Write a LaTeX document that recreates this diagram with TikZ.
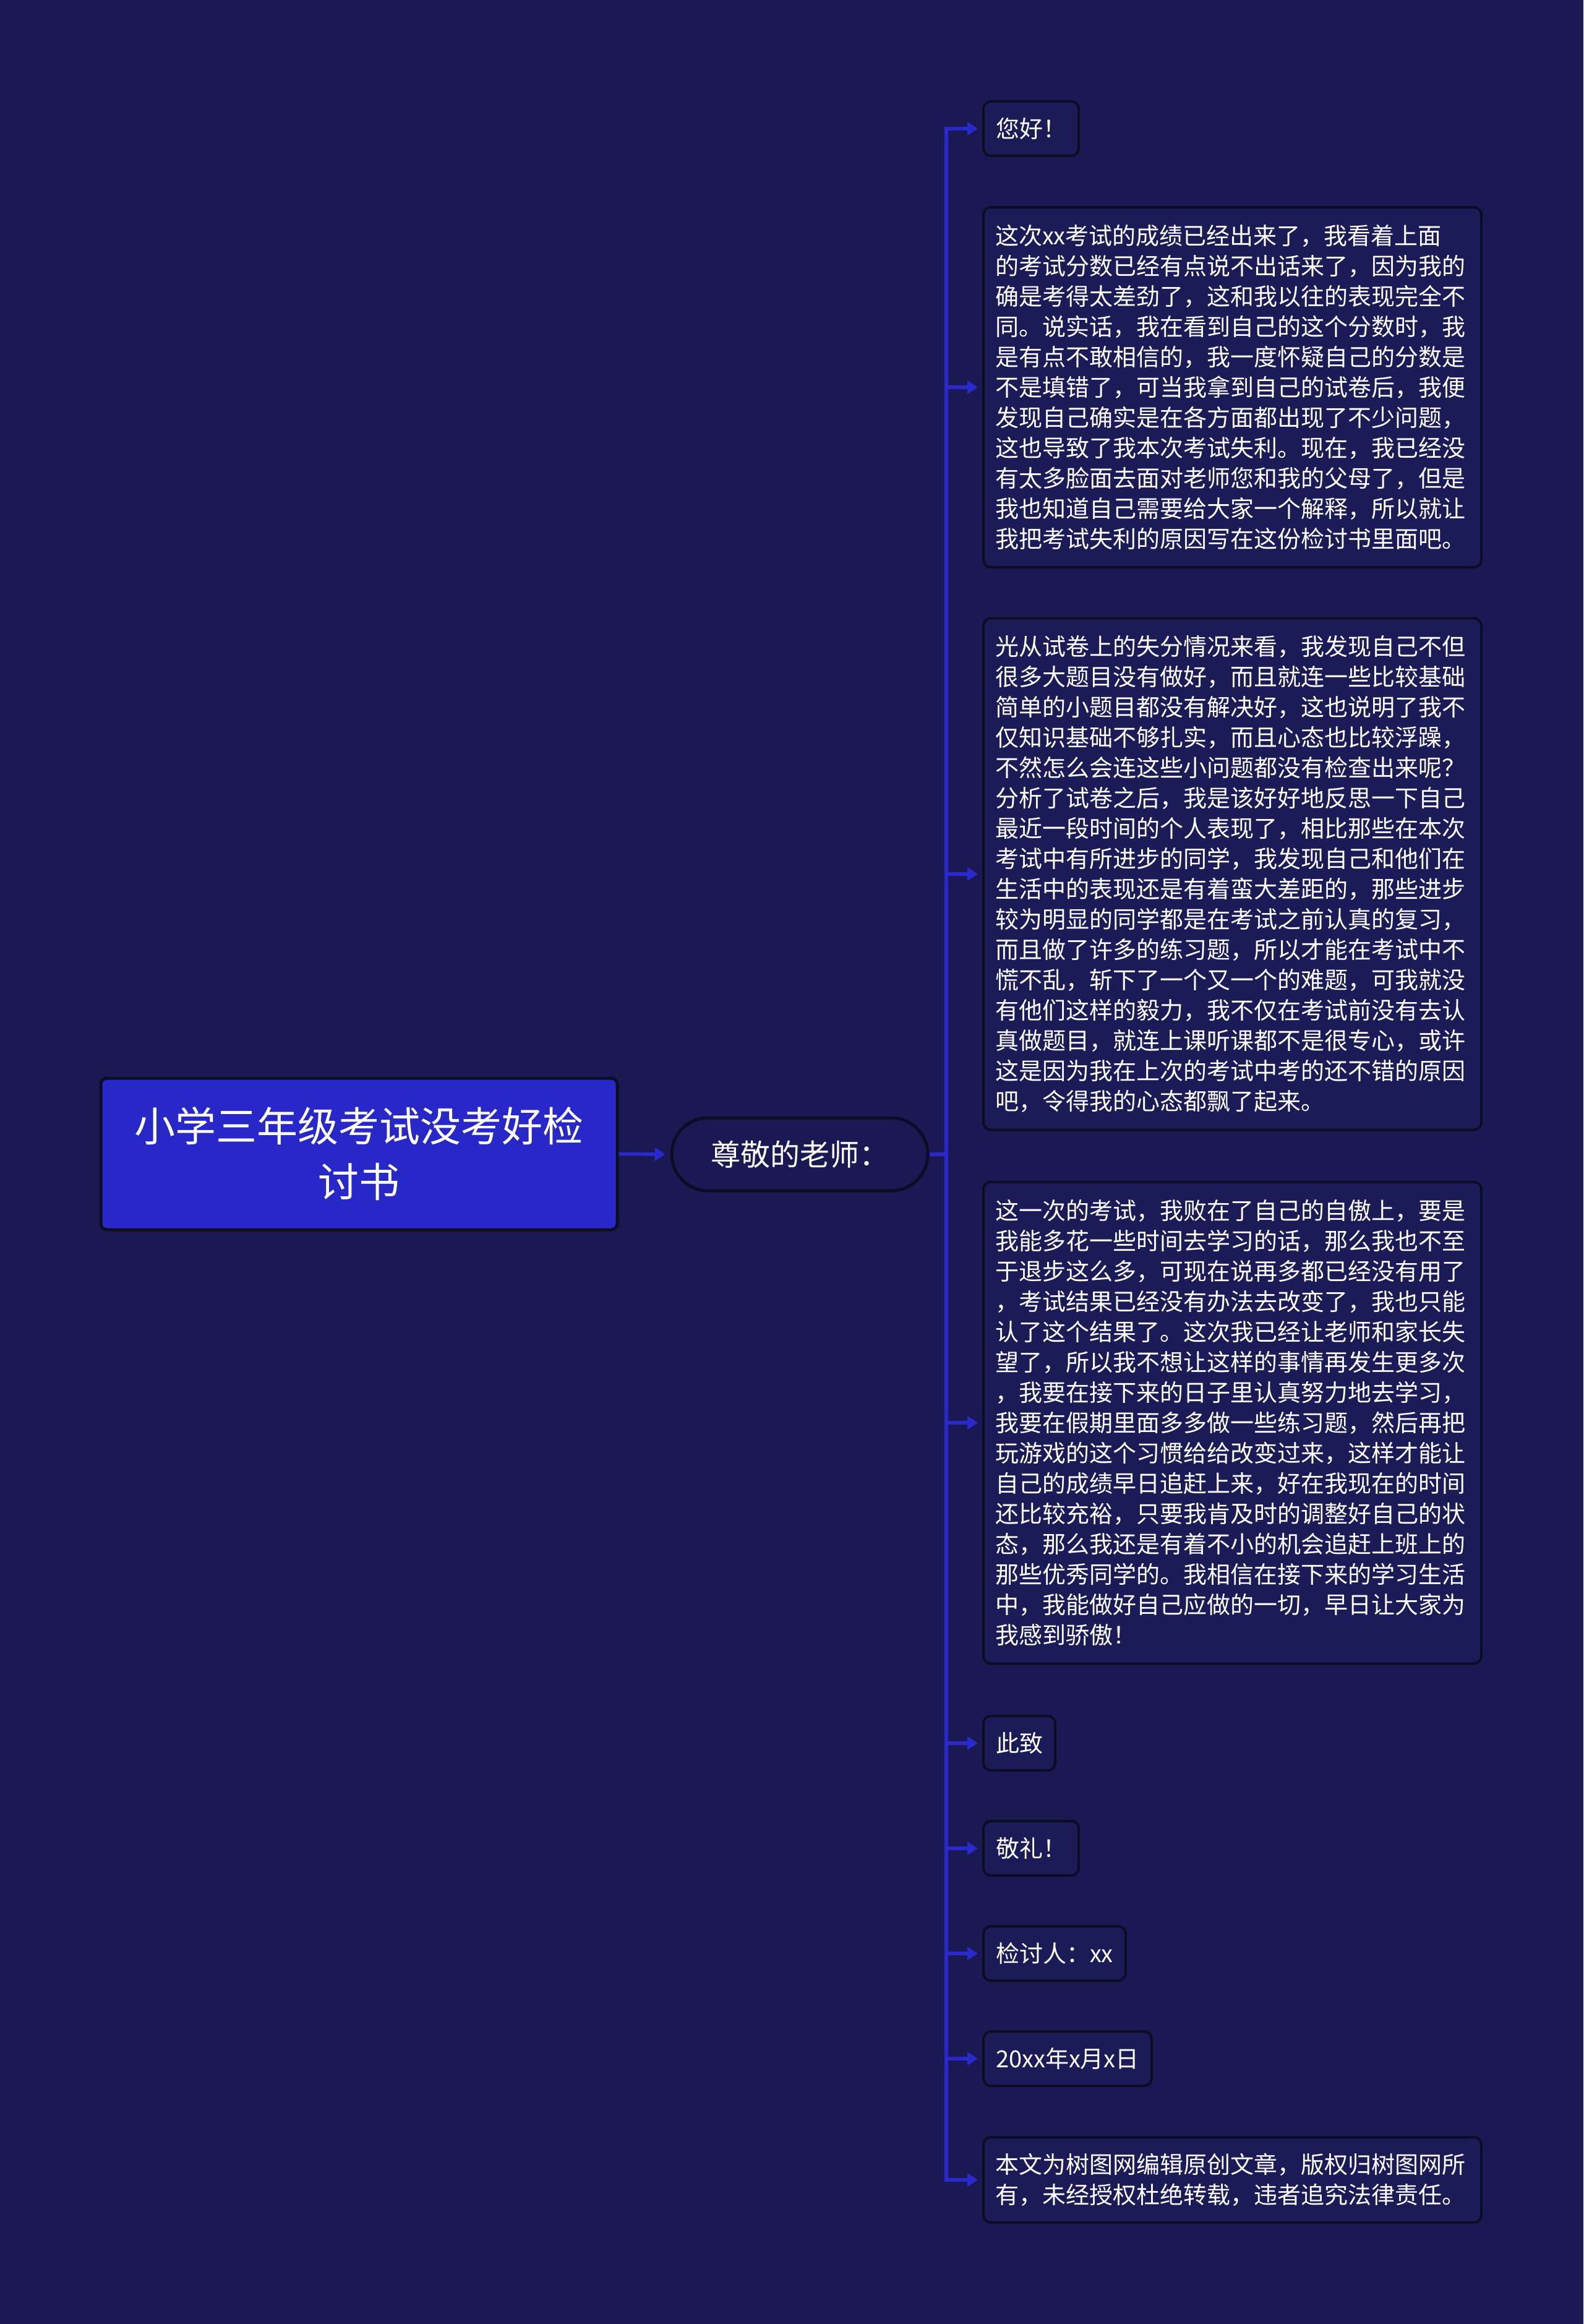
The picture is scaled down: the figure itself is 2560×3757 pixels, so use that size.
\documentclass[tikz,border=0pt]{standalone}
\usepackage{fontspec}
\setmainfont{Noto Sans CJK SC}
\usetikzlibrary{arrows.meta}
\definecolor{bg}{HTML}{1A1953}
\definecolor{rootfill}{HTML}{2828C8}
\definecolor{linec}{HTML}{2A2ACC}
\definecolor{edgec}{HTML}{0C0C24}
\definecolor{leaffill}{HTML}{1B1B58}
\begin{document}
\begin{tikzpicture}[x=1pt,y=-1pt,
  rootbox/.style={draw=edgec, line width=5pt, fill=rootfill, rounded corners=10pt, text=white, align=center,
    font=\fontsize{66}{90}\selectfont, minimum width=835pt, minimum height=245pt, text width=790pt, inner sep=0pt},
  midbox/.style={draw=edgec, line width=5pt, fill=bg, rounded corners=59pt, text=white,
    font=\fontsize{48}{58}\selectfont, minimum width=414pt, minimum height=118pt, inner sep=0pt},
  leafbox/.style={draw=edgec, line width=4pt, fill=leaffill, rounded corners=12pt, text=white, anchor=west,
    font=\fontsize{38}{49}\selectfont, inner xsep=20pt, inner ysep=0pt, minimum height=88pt},
  longleaf/.style={leafbox, align=left, text width=767pt, inner xsep=19pt},
  conn/.style={draw=linec, line width=5.5pt},
  arr/.style={conn, -{Triangle[length=17pt,width=21pt]}, shorten >=7pt}
]
\useasboundingbox (0,0) rectangle (2560,3757);
\fill[bg] (0,0) rectangle (2560,3757);

\node[rootbox] (root) at (580.5,1865.5) {小学三年级考试没考好检\\讨书};
\node[midbox] (mid) at (1293,1866) {尊敬的老师：};

\node[leafbox] (l1) at (1588,208) {您好！};
\node[longleaf, minimum height=582pt] (l2) at (1588,626) {这次xx考试的成绩已经出来了，我看着上面\\
的考试分数已经有点说不出话来了，因为我的\\
确是考得太差劲了，这和我以往的表现完全不\\
同。说实话，我在看到自己的这个分数时，我\\
是有点不敢相信的，我一度怀疑自己的分数是\\
不是填错了，可当我拿到自己的试卷后，我便\\
发现自己确实是在各方面都出现了不少问题，\\
这也导致了我本次考试失利。现在，我已经没\\
有太多脸面去面对老师您和我的父母了，但是\\
我也知道自己需要给大家一个解释，所以就让\\
我把考试失利的原因写在这份检讨书里面吧。};
\node[longleaf, minimum height=827pt] (l3) at (1588,1413) {光从试卷上的失分情况来看，我发现自己不但\\
很多大题目没有做好，而且就连一些比较基础\\
简单的小题目都没有解决好，这也说明了我不\\
仅知识基础不够扎实，而且心态也比较浮躁，\\
不然怎么会连这些小问题都没有检查出来呢？\\
分析了试卷之后，我是该好好地反思一下自己\\
最近一段时间的个人表现了，相比那些在本次\\
考试中有所进步的同学，我发现自己和他们在\\
生活中的表现还是有着蛮大差距的，那些进步\\
较为明显的同学都是在考试之前认真的复习，\\
而且做了许多的练习题，所以才能在考试中不\\
慌不乱，斩下了一个又一个的难题，可我就没\\
有他们这样的毅力，我不仅在考试前没有去认\\
真做题目，就连上课听课都不是很专心，或许\\
这是因为我在上次的考试中考的还不错的原因\\
吧，令得我的心态都飘了起来。};
\node[longleaf, minimum height=779pt] (l4) at (1588,2300) {这一次的考试，我败在了自己的自傲上，要是\\
我能多花一些时间去学习的话，那么我也不至\\
于退步这么多，可现在说再多都已经没有用了\\
，考试结果已经没有办法去改变了，我也只能\\
认了这个结果了。这次我已经让老师和家长失\\
望了，所以我不想让这样的事情再发生更多次\\
，我要在接下来的日子里认真努力地去学习，\\
我要在假期里面多多做一些练习题，然后再把\\
玩游戏的这个习惯给给改变过来，这样才能让\\
自己的成绩早日追赶上来，好在我现在的时间\\
还比较充裕，只要我肯及时的调整好自己的状\\
态，那么我还是有着不小的机会追赶上班上的\\
那些优秀同学的。我相信在接下来的学习生活\\
中，我能做好自己应做的一切，早日让大家为\\
我感到骄傲！};
\node[leafbox] (l5) at (1588,2818) {此致};
\node[leafbox] (l6) at (1588,2988) {敬礼！};
\node[leafbox] (l7) at (1588,3158) {检讨人：xx};
\node[leafbox] (l8) at (1588,3328) {20xx年x月x日};
\node[longleaf, minimum height=138pt] (l9) at (1588,3524) {本文为树图网编辑原创文章，版权归树图网所\\
有，未经授权杜绝转载，违者追究法律责任。};

\coordinate (trunk) at (1530,1866);
\draw[arr, shorten >=8pt] (root.east) -- (mid.west);
\draw[conn] (mid.east) -- (trunk);
\foreach \n in {l1,l2,l3,l4,l5,l6,l7,l8,l9}
  \draw[arr] (trunk) |- (\n.west);
\end{tikzpicture}
\end{document}
